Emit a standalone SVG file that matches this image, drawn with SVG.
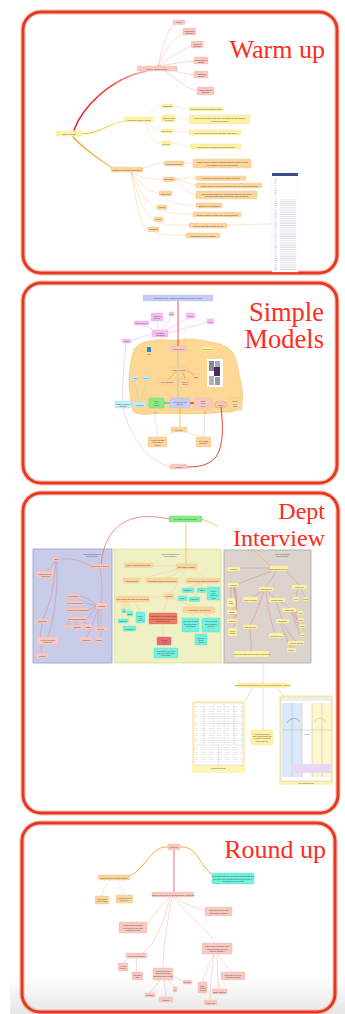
<svg xmlns="http://www.w3.org/2000/svg" width="345" height="1014" viewBox="0 0 345 1014">
<style>
.panel{fill:none;stroke:#e4391f;stroke-width:3}
.halo{fill:none;stroke:#f39a8a;stroke-width:5.5;opacity:.45}
.ttl{font-family:"Liberation Serif","Times New Roman",serif;fill:#ff2b1c;text-anchor:end}
.n rect{stroke-width:.3}
.pk rect{fill:#f9c9c1;stroke:#f2aaa2}
.yl rect{fill:#fdf1a6;stroke:#f4df86}
.or rect{fill:#fcd59c;stroke:#f2b872}
.lv rect{fill:#c7ccf6;stroke:#a8b0ec}
.mg rect{fill:#f6bdf4;stroke:#e49ae4}
.cy rect{fill:#c2eff9;stroke:#90d8ea}
.tl rect{fill:#72f0de;stroke:#40d8c0}
.gn rect{fill:#86ec86;stroke:#50c850}
.ro rect{fill:#f07a64;stroke:#d85a48}
.rp rect{fill:#e86a78;stroke:#d04858}
.t{font-family:"Liberation Sans",Arial,sans-serif;font-size:1.8px;fill:#3a3a3a;text-anchor:middle;dominant-baseline:central}
.k{fill:none;stroke-linecap:round}
.kp{stroke:#f4aaa4;stroke-width:.45}
.ky{stroke:#fbdc9a;stroke-width:.45}
.ko{stroke:#f8c88e;stroke-width:.45}
.km{stroke:#eea4ec;stroke-width:.45}
.kb{stroke:#cf7a78;stroke-width:.4}
.kc{stroke:#86d6e8;stroke-width:.4}
.sec{stroke-width:.7}
</style>
<defs>
<linearGradient id="gRed" gradientUnits="userSpaceOnUse" x1="74" y1="130" x2="147" y2="71">
<stop offset="0" stop-color="#e01414"/><stop offset=".6" stop-color="#ee4a40"/><stop offset="1" stop-color="#f6b0ac"/>
</linearGradient>
<linearGradient id="gOr" gradientUnits="userSpaceOnUse" x1="74" y1="137" x2="114" y2="169">
<stop offset="0" stop-color="#f09a10"/><stop offset="1" stop-color="#f8c878"/>
</linearGradient>
<linearGradient id="gYl" gradientUnits="userSpaceOnUse" x1="82" y1="134" x2="126" y2="121">
<stop offset="0" stop-color="#f4b020"/><stop offset="1" stop-color="#fbe08a"/>
</linearGradient>
<linearGradient id="floor" x1="0" y1="0" x2="0" y2="1">
<stop offset="0" stop-color="#ffffff"/><stop offset="1" stop-color="#e6e6e6"/>
</linearGradient>
<pattern id="rows" width="20" height="2.2" patternUnits="userSpaceOnUse">
<rect x="0" y="0.6" width="17" height=".5" fill="#b8bcc8"/>
</pattern>
<pattern id="cells" width="8" height="2.4" patternUnits="userSpaceOnUse">
<rect x="0.5" y="0.8" width="5" height=".4" fill="#c4c4c4"/>
</pattern>
</defs>

<!-- page -->
<rect width="345" height="1014" fill="#ffffff"/>
<rect x="10" y="977" width="335" height="37" fill="url(#floor)"/>

<!-- slide frames -->
<g id="frames">
<rect class="halo" x="23" y="12" width="314" height="261" rx="18"/>
<rect class="panel" x="23" y="12" width="314" height="261" rx="18"/>
<rect class="halo" x="23" y="283" width="314" height="200" rx="18"/>
<rect class="panel" x="23" y="283" width="314" height="200" rx="18"/>
<rect class="halo" x="23" y="493" width="315" height="320" rx="18"/>
<rect class="panel" x="23" y="493" width="315" height="320" rx="18"/>
<rect class="halo" x="22" y="823" width="313" height="189" rx="18"/>
<rect class="panel" x="22" y="823" width="313" height="189" rx="18"/>
</g>

<!-- backdrops: sections, cloud, documents -->
<g id="backdrops">
<rect x="33" y="549" width="79" height="114" fill="#c9cce8" stroke="#8890c8" class="sec"/>
<rect x="114" y="549" width="107" height="114" fill="#eff0c4" stroke="#d6de7e" class="sec"/>
<rect x="224" y="550" width="87" height="113" fill="#dcd2ce" stroke="#a89a98" class="sec"/>
<text class="t" x="92" y="554" style="font-size:1.5px">Work with stakeholders to</text>
<text class="t" x="92" y="556" style="font-size:1.5px">identify problems</text>
<text class="t" x="170" y="554" style="font-size:1.5px">How is the problem solved</text>
<text class="t" x="170" y="556" style="font-size:1.5px">in the department?</text>
<text class="t" x="282" y="554" style="font-size:1.5px">How is the department</text>
<text class="t" x="282" y="556" style="font-size:1.5px">improving things?</text>

<path d="M133 410 C128 395 128 372 132 356 C134 346 141 342 150 341 C160 338 170 341 180 340 C192 337 205 341 216 343 C228 345 235 352 237 364 C240 378 244 392 242 402 C241 411 232 413 222 412 C200 416 170 412 150 414 C140 415 134 414 133 410 Z" fill="#fdd894" stroke="#eea22c" stroke-width=".6" stroke-dasharray="1 .8"/>

<!-- warm-up notes page -->
<rect x="272" y="173" width="26" height="99" fill="#ffffff" stroke="#e4e4e4" stroke-width=".3"/>
<rect x="272" y="173" width="26" height="3" fill="#3c4d8f"/>
<rect x="274" y="178" width="4" height="20" fill="url(#rows)"/>
<rect x="274" y="199" width="22" height="72" fill="url(#rows)"/>

<!-- people picture -->
<rect x="207" y="359" width="16" height="28" fill="#ffffff"/>
<rect x="209" y="361" width="5" height="10" fill="#8a8a94"/>
<rect x="215" y="361" width="5" height="10" fill="#a8a8b0"/>
<rect x="214" y="367" width="6" height="9" fill="#4a2a5a"/>
<rect x="209" y="376" width="5" height="9" fill="#b0b0b8"/>
<rect x="215" y="377" width="5" height="8" fill="#9898a0"/>
<rect x="147" y="347" width="4" height="5" fill="#2a86c4"/>
<text class="t" x="149" y="354.5" style="font-size:1.3px">source</text>

<!-- tool sheet, left -->
<rect x="192" y="701" width="53" height="72" rx="2" fill="#fdf3b8"/>
<rect x="194" y="703" width="49" height="62" fill="#ffffff" stroke="#b8b8b8" stroke-width=".3"/>
<path d="M204 703 V745 M214 703 V745 M224 703 V745 M234 703 V745 M194 745 H243 M218.5 745 V765 M214 724 H224 M224 724 H234" stroke="#b8b8b8" stroke-width=".3" fill="none"/>
<rect x="195" y="705" width="48" height="39" fill="url(#cells)"/>
<rect x="195" y="747" width="47" height="16" fill="url(#cells)"/>
<text class="t" x="218.5" y="768" style="font-size:1.4px">Business model canvas</text>
<!-- tool sheet, right -->
<rect x="279" y="695" width="54" height="90" rx="2" fill="#fdf3b8"/>
<rect x="281" y="697" width="50" height="84" fill="#ffffff" stroke="#9a9a9a" stroke-width=".3"/>
<rect x="281" y="697" width="50" height="4" fill="#eeeeee"/>
<rect x="282" y="703" width="10" height="74" fill="#dce9f8"/>
<rect x="292" y="703" width="10" height="74" fill="#dce9f8"/>
<rect x="312" y="703" width="10" height="74" fill="#fdf6d0"/>
<rect x="322" y="703" width="9" height="74" fill="#fdf6d0"/>
<path d="M292 703 V777 M302 703 V777 M312 703 V777 M322 703 V777 M282 730 H331" stroke="#909090" stroke-width=".3" fill="none"/>
<rect x="291" y="764" width="40" height="9" fill="#ead6f6"/>
<path d="M287 723 C291 717 297 717 300 722" stroke="#5aa8f0" stroke-width=".8" fill="none"/>
<path d="M314 722 C317 717 323 717 326 722" stroke="#f2d040" stroke-width=".8" fill="none"/>
<text class="t" x="307" y="734" style="font-size:2px">DIS</text>
<text class="t" x="306" y="783" style="font-size:1.4px">Value proposition canvas</text>
</g>

<g id="connectors">
<!-- warm up -->
<path class="k" d="M74 130 C82 108 110 78 147 71" stroke="url(#gRed)" stroke-width="1.4"/>
<path class="k" d="M82 134 C100 134 110 122 126 121" stroke="url(#gYl)" stroke-width="1.1"/>
<path class="k" d="M73 137 C85 150 100 160 114 169" stroke="url(#gOr)" stroke-width="1.3"/>
<path class="k kp" d="M158 66 C162 50 166 30 175 24"/>
<path class="k kp" d="M158 66 C165 50 172 38 184 33"/>
<path class="k kp" d="M158 66 C170 58 180 50 192 46"/>
<path class="k kp" d="M158 66 C172 64 182 62 195 61"/>
<path class="k kp" d="M158 66 C172 70 182 74 195 75"/>
<path class="k kp" d="M158 66 C172 76 185 88 198 91"/>
<path class="k ky" d="M148 118 C152 108 156 106 162 106"/>
<path class="k ky" d="M148 119 C154 116 157 118 162 118"/>
<path class="k ky" d="M146 121 C152 128 155 131 161 131"/>
<path class="k ky" d="M145 121 C150 135 153 143 161 143"/>
<path class="k ky" d="M173 106 C180 106 182 109 189 109"/>
<path class="k ky" d="M176 118 C182 119 184 119 189 119"/>
<path class="k ky" d="M173 131 C180 131 182 132 189 132"/>
<path class="k ky" d="M171 143 C178 143 182 146 190 146"/>
<path class="k ko" d="M140 169 C150 166 155 163 164 163"/>
<path class="k ko" d="M131 172 C140 178 150 179 163 179"/>
<path class="k ko" d="M131 172 C140 183 150 193 159 193"/>
<path class="k ko" d="M131 172 C140 190 148 207 157 207"/>
<path class="k ko" d="M131 172 C138 195 145 219 154 219"/>
<path class="k ko" d="M131 172 C136 200 140 229 148 229"/>
<path class="k ko" d="M184 163 H193"/>
<path class="k ko" d="M175 179 C185 178 188 178 196 178"/>
<path class="k ko" d="M175 179 C185 180 188 185 196 185"/>
<path class="k ko" d="M175 180 C183 185 188 195 196 195"/>
<path class="k ko" d="M165 196 C168 203 180 205 196 205"/>
<path class="k ko" d="M162 209 C166 214 180 214 193 214"/>
<path class="k ko" d="M159 221 C163 226 175 225 189 225"/>
<path class="k ko" d="M227 225 C240 225 255 224 272 224"/>
<path class="k ko" d="M153 231 C157 236 170 235 186 235"/>
<!-- simple models -->
<path class="k" d="M178 301 V346" stroke="#e82a2a" stroke-width=".8"/>
<path class="k km" d="M155 331 C150 328 146 326 142 325"/>
<path class="k km" d="M158 330 L157 321"/>
<path class="k km" d="M162 330 C166 324 170 320 171 316"/>
<path class="k km" d="M165 331 C175 325 183 320 190 318"/>
<path class="k km" d="M167 333 C185 328 200 325 207 322"/>
<path class="k km" d="M152 334 C145 336 138 338 131 341"/>
<path class="k" d="M187 348.5 H202" stroke="#e4ec78" stroke-width=".6"/>
<path class="k" d="M178 351 V398" stroke="#a8b0cc" stroke-width=".6"/>
<path class="k" d="M176 372 C172 376 170 378 168 379" stroke="#f0a030" stroke-width=".8"/>
<path class="k" d="M182 372 C184 375 185 377 185 379" stroke="#f0a030" stroke-width=".8"/>
<path class="k" d="M186 370 C190 372 192 374 194 375" stroke="#f0a030" stroke-width=".8"/>
<path class="k" d="M164 403 H170" stroke="#30d4e4" stroke-width="1.5"/>
<path class="k kc" d="M146 404.5 H149"/>
<path class="k kc" d="M131 404.5 H133"/>
<path class="k kc" d="M135 380 C136 390 138 398 139 402"/>
<path class="k kc" d="M146 380 C145 390 142 398 140 402"/>
<path class="k" d="M190 403 H194" stroke="#e03030" stroke-width="1.5"/>
<path class="k kp" d="M212 404 H215"/>
<path class="k kp" d="M226 404 H228"/>
<path class="k" d="M180 408 V427" stroke="#f0a030" stroke-width=".7"/>
<path class="k ko" d="M174 432 C168 434 162 435 158 437"/>
<path class="k ko" d="M184 432 C190 434 198 435 203 437"/>
<path class="k" d="M155 408 C155 420 157 430 157 437" stroke="#9ee69e" stroke-width=".45"/>
<path class="k kp" d="M205 409 C205 420 204 430 204 437"/>
<path class="k" d="M126 343 C124 370 120 395 124 412 C132 440 150 462 170 467" stroke="#f4bac8" stroke-width=".55"/>
<path class="k" d="M221 407 C223 425 224 445 216 457 C208 466 197 467 187 467" stroke="#e03020" stroke-width=".9"/>
<!-- dept interview -->
<path class="k" d="M169 519 C130 510 105 525 101 564" stroke="#e04848" stroke-width=".6"/>
<path class="k" d="M202 519 C225 528 250 545 270 566" stroke="#f2b030" stroke-width=".7"/>
<path class="k" d="M186 522 V564" stroke="#f2b040" stroke-width=".6"/>
<path class="k kb" d="M91 566 C80 560 70 558 60 559"/>
<path class="k kb" d="M55 561 C52 566 50 569 47 571"/>
<path class="k kb" d="M56 561 C54 585 50 605 43 619"/>
<path class="k kb" d="M57 561 C58 600 52 625 48 637"/>
<path class="k kb" d="M42 623 C40 635 40 645 42 653"/>
<path class="k kb" d="M100 568 C102 580 103 592 101 603"/>
<path class="k kb" d="M96 605 C90 600 85 597 80 596"/>
<path class="k kb" d="M96 606 C90 604 88 603 83 603"/>
<path class="k kb" d="M96 606 C92 608 90 610 88 610"/>
<path class="k kb" d="M96 607 C92 612 90 616 87 619"/>
<path class="k kb" d="M99 609 C98 615 97 620 99 627"/>
<path class="k kb" d="M98 609 C94 620 90 630 87 637"/>
<path class="k kb" d="M101 609 V637"/>
<path class="k kb" d="M70 621 L66 625"/>
<path class="k kb" d="M75 621 L77 625"/>
<path class="k kb" d="M82 621 L87 624"/>
<path class="k ko" d="M176 566 H153"/>
<path class="k ko" d="M180 569 C165 572 150 576 140 579"/>
<path class="k ko" d="M183 569 C178 573 172 576 166 578"/>
<path class="k ko" d="M192 569 C198 573 202 576 204 578"/>
<path class="k ko" d="M185 569 C180 580 174 590 170 594"/>
<path class="k ko" d="M164 596 C158 597 153 598 149 598"/>
<path class="k ko" d="M172 598 C180 602 190 605 195 607"/>
<path class="k ko" d="M168 598 C166 604 164 609 163 613"/>
<path class="k ko" d="M163 624 V637"/>
<path class="k ko" d="M164 645 V648"/>
<path class="k ko" d="M200 583 C196 585 192 586 188 588"/>
<path class="k ko" d="M202 583 L201 588"/>
<path class="k ko" d="M206 583 L212 587"/>
<path class="k ko" d="M198 583 C192 590 187 594 184 596"/>
<path class="k ko" d="M200 583 L195 597"/>
<path class="k ko" d="M125 602 L124 609"/>
<path class="k ko" d="M128 602 L130 611"/>
<path class="k ko" d="M135 602 L140 612"/>
<path class="k ko" d="M123 602 C120 608 121 614 123 619"/>
<path class="k ko" d="M126 602 C128 612 129 620 129 626"/>
<path class="k ko" d="M195 613 L190 618"/>
<path class="k ko" d="M203 613 L210 618"/>
<path class="k ko" d="M210 632 L203 634"/>
<path class="k kb" d="M270 568 H240"/>
<path class="k kb" d="M272 571 C260 576 245 580 239 584"/>
<path class="k kb" d="M276 571 C272 578 269 583 266 587"/>
<path class="k kb" d="M286 571 C292 577 296 581 299 585"/>
<path class="k kb" d="M233 587 C238 600 238 620 233 628"/>
<path class="k kb" d="M231 587 L231 598"/>
<path class="k kb" d="M234 587 C236 595 235 605 233 610"/>
<path class="k kb" d="M235 587 C238 600 237 612 233 619"/>
<path class="k kb" d="M262 591 C258 594 255 596 252 597"/>
<path class="k kb" d="M267 591 L275 598"/>
<path class="k kb" d="M264 591 C260 605 255 615 250 625"/>
<path class="k kb" d="M266 591 C268 610 272 625 275 633"/>
<path class="k kb" d="M250 629 C250 640 252 646 251 651"/>
<path class="k kb" d="M298 589 L296 597"/>
<path class="k kb" d="M301 589 L305 597"/>
<path class="k kb" d="M280 602 C284 604 288 606 289 608"/>
<path class="k kb" d="M294 612 L298 613"/>
<path class="k kb" d="M294 612 C296 615 297 618 298 620"/>
<path class="k kb" d="M292 612 C296 618 298 622 299 626"/>
<path class="k kb" d="M291 612 C296 622 298 630 300 635"/>
<path class="k kb" d="M276 602 L282 619"/>
<path class="k kb" d="M283 623 C288 632 292 637 296 641"/>
<path class="k kb" d="M280 623 C284 632 288 642 291 648"/>
<path class="k" d="M263 663 V683" stroke="#f0a0a0" stroke-width=".45"/>
<path class="k" d="M253 687 C250 692 248 697 245 701" stroke="#f0a0a0" stroke-width=".45"/>
<path class="k" d="M263 687 V730" stroke="#f0a0a0" stroke-width=".45"/>
<path class="k" d="M276 687 C279 690 281 693 283 695" stroke="#f0a0a0" stroke-width=".45"/>
<!-- round up -->
<path class="k" d="M168 847 C150 845 145 872 128 876" stroke="#f0b030" stroke-width="1"/>
<path class="k" d="M180 847 C198 845 200 868 212 874" stroke="#f0b030" stroke-width="1"/>
<path class="k ko" d="M110 880 C106 885 103 890 102 896"/>
<path class="k ko" d="M118 880 C120 886 122 890 124 895"/>
<path class="k" d="M174 850 V892" stroke="#e84848" stroke-width=".8"/>
<path class="k kp" d="M176 897 C185 905 195 908 205 910"/>
<path class="k kp" d="M170 897 C160 905 155 915 147 925"/>
<path class="k kp" d="M170 897 C165 920 155 945 143 953"/>
<path class="k kp" d="M130 958 C126 960 124 961 123 963"/>
<path class="k kp" d="M136 958 L137 972"/>
<path class="k kp" d="M172 897 C168 920 163 945 163 968"/>
<path class="k kp" d="M173 976 C178 978 181 980 183 982"/>
<path class="k kp" d="M168 980 L175 987"/>
<path class="k kp" d="M160 980 L150 993"/>
<path class="k kp" d="M164 980 L166 997"/>
<path class="k kp" d="M174 897 C185 915 205 925 215 943"/>
<path class="k kp" d="M215 954 C208 965 204 975 203 982"/>
<path class="k kp" d="M217 954 C217 970 218 980 219 989"/>
<path class="k kp" d="M214 954 C212 970 210 990 210 1000"/>
<path class="k kp" d="M218 954 C222 962 228 968 232 972"/>
</g>

<!-- warm up nodes -->
<g id="w-root" class="n yl"><rect x="56" y="131" width="26" height="5" rx="1"/><text class="t" x="69" y="133.5">Warm up (5 mins)</text></g>
<g id="w-spot" class="n pk"><rect x="137" y="66" width="40" height="5" rx="1"/><text class="t" x="157" y="68.5">Spot my disease (5 mins)</text></g>
<g id="w-s1" class="n pk"><rect x="173" y="20" width="12" height="4.5" rx="1"/><text class="t" x="179" y="22.3">Cancer</text></g>
<g id="w-s2" class="n pk"><rect x="183" y="28" width="13" height="7" rx="1"/><text class="t" x="189.5" y="30.5">Neurological</text><text class="t" x="189.5" y="32.7">disorders</text></g>
<g id="w-s3" class="n pk"><rect x="191" y="41" width="12" height="7" rx="1"/><text class="t" x="197" y="43.5">Infectious</text><text class="t" x="197" y="45.7">diseases</text></g>
<g id="w-s4" class="n pk"><rect x="194" y="57" width="14" height="7" rx="1"/><text class="t" x="201" y="59.5">Cardiovascular</text><text class="t" x="201" y="61.7">disease</text></g>
<g id="w-s5" class="n pk"><rect x="194" y="71" width="14" height="7" rx="1"/><text class="t" x="201" y="73.5">Autoimmune</text><text class="t" x="201" y="75.7">disease</text></g>
<g id="w-s6" class="n pk"><rect x="197" y="87" width="17" height="8" rx="1"/><text class="t" x="205.5" y="89.8">Musculoskeletal</text><text class="t" x="205.5" y="92.2">disorders</text></g>
<g id="w-arm" class="n yl"><rect x="124" y="117" width="29" height="5" rx="1"/><text class="t" x="138.5" y="119.5">Arm making &amp; biology (5 mins)</text></g>
<g id="w-a1" class="n yl"><rect x="162" y="104" width="11" height="4" rx="1"/><text class="t" x="167.5" y="106">Diagnostics</text></g>
<g id="w-a2" class="n yl"><rect x="162" y="115" width="14" height="7" rx="1"/><text class="t" x="169" y="117.5">Breaking down</text><text class="t" x="169" y="119.7">the cause</text></g>
<g id="w-a3" class="n yl"><rect x="161" y="129" width="12" height="4" rx="1"/><text class="t" x="167" y="131">Drug delivery</text></g>
<g id="w-a4" class="n yl"><rect x="161" y="141" width="10" height="5" rx="1"/><text class="t" x="166" y="143.5">Devices</text></g>
<g id="w-a1b" class="n yl"><rect x="189" y="107" width="34" height="4" rx="1"/><text class="t" x="206" y="109">How could we detect the disease earlier?</text></g>
<g id="w-a2b" class="n yl"><rect x="189" y="115" width="61" height="9" rx="1"/><text class="t" x="219.5" y="118">How do we find targets in the body and choose the right medicine</text><text class="t" x="219.5" y="120.6">to act on them safely?</text></g>
<g id="w-a3b" class="n yl"><rect x="189" y="130" width="52" height="5" rx="1"/><text class="t" x="215" y="132.5">How do we get the drug to the right place in the body?</text></g>
<g id="w-a4b" class="n yl"><rect x="190" y="144" width="51" height="5" rx="1"/><text class="t" x="215.5" y="146.5">Which tools help patients and doctors at home?</text></g>
<g id="w-db" class="n or"><rect x="111" y="167" width="32" height="5" rx="1"/><text class="t" x="127" y="169.5">Database of real world data (5 mins)</text></g>
<g id="w-d1" class="n or"><rect x="164" y="161" width="20" height="5" rx="1"/><text class="t" x="174" y="163.5">Sources of the data</text></g>
<g id="w-d2" class="n or"><rect x="163" y="177" width="12" height="4.5" rx="1"/><text class="t" x="169" y="179.3">Data quality</text></g>
<g id="w-d3" class="n or"><rect x="159" y="191" width="13" height="5" rx="1"/><text class="t" x="165.5" y="193.5">Data types</text></g>
<g id="w-d4" class="n or"><rect x="157" y="205" width="10" height="4.5" rx="1"/><text class="t" x="162" y="207.3">Linkage</text></g>
<g id="w-d5" class="n or"><rect x="154" y="217" width="9" height="4.5" rx="1"/><text class="t" x="158.5" y="219.3">Privacy</text></g>
<g id="w-d6" class="n or"><rect x="148" y="227" width="11" height="4.5" rx="1"/><text class="t" x="153.5" y="229.3">Outcomes</text></g>
<g id="w-d1b" class="n or"><rect x="193" y="159" width="58" height="9" rx="1"/><text class="t" x="222" y="162">Hospital records, registries, prescriptions and wearables collected</text><text class="t" x="222" y="164.6">from patients in everyday care settings</text></g>
<g id="w-d2b" class="n or"><rect x="196" y="176" width="50" height="4.5" rx="1"/><text class="t" x="221" y="178.3">How complete and accurate is what is recorded?</text></g>
<g id="w-d2c" class="n or"><rect x="196" y="183" width="66" height="5" rx="1"/><text class="t" x="229" y="185.5">Are there gaps, errors or bias in how the data were collected and coded?</text></g>
<g id="w-d2d" class="n or"><rect x="196" y="191" width="61" height="8" rx="1"/><text class="t" x="226.5" y="193.8">Who checks the data before it is used for research, and how are</text><text class="t" x="226.5" y="196.2">problems reported back to the people who collected it?</text></g>
<g id="w-d3b" class="n or"><rect x="196" y="203" width="26" height="5" rx="1"/><text class="t" x="209" y="205.5">Numbers, text and images</text></g>
<g id="w-d4b" class="n or"><rect x="193" y="212" width="48" height="5" rx="1"/><text class="t" x="217" y="214.5">Joining records for the same patient across sources</text></g>
<g id="w-d5b" class="n or"><rect x="189" y="223" width="38" height="5" rx="1"/><text class="t" x="208" y="225.5">Consent, anonymity and safe access</text></g>
<g id="w-d6b" class="n or"><rect x="186" y="233" width="34" height="5" rx="1"/><text class="t" x="203" y="235.5">What happened to the patients?</text></g>

<!-- simple models nodes -->
<g id="s-top" class="n lv"><rect x="143" y="295" width="70" height="6" rx="1"/><text class="t" x="178" y="298">Introduction to the "Component model of the Drug" (10 mins)</text></g>
<g id="s-sim" class="n mg"><rect x="152" y="330" width="16" height="7" rx="1"/><text class="t" x="160" y="332.5">Simulation</text><text class="t" x="160" y="334.7">Abstraction</text></g>
<g id="s-m1" class="n mg"><rect x="134" y="321" width="15" height="4" rx="1"/><text class="t" x="141.5" y="323">Model of a cell</text></g>
<g id="s-m2" class="n mg"><rect x="151" y="313" width="12" height="8" rx="1"/><text class="t" x="157" y="315.8">Model of</text><text class="t" x="157" y="318.2">an organ</text></g>
<g id="s-m3" class="n mg"><rect x="169" y="312" width="5" height="4" rx="1"/><text class="t" x="171.5" y="314">Map</text></g>
<g id="s-m4" class="n mg"><rect x="186" y="313" width="9" height="5" rx="1"/><text class="t" x="190.5" y="315.5">Globe</text></g>
<g id="s-m5" class="n mg"><rect x="207" y="319" width="7" height="5" rx="1"/><text class="t" x="210.5" y="321.5">Lego</text></g>
<g id="s-m6" class="n mg"><rect x="122" y="339" width="9" height="4" rx="1"/><text class="t" x="126.5" y="341">Limits</text></g>
<g id="s-herb" class="n pk"><rect x="170" y="346" width="17" height="5" rx="1"/><text class="t" x="178.5" y="348.5">Herbal remedy</text></g>
<g id="s-herb2" class="n yl"><rect x="202" y="347" width="10" height="3.5" rx="1"/><text class="t" x="207" y="348.8">Willow bark</text></g>
<g id="s-hub" class="n or"><rect x="171" y="367" width="16" height="5" rx="1"/><text class="t" x="179" y="369.5">Model of a drug</text></g>
<g id="s-h1" class="n or"><rect x="157" y="379" width="19" height="5" rx="1"/><text class="t" x="166.5" y="381.5">Active ingredient</text></g>
<g id="s-h2" class="n or"><rect x="180" y="379" width="11" height="8" rx="1"/><text class="t" x="185.5" y="381.8">Carrier /</text><text class="t" x="185.5" y="384.2">delivery</text></g>
<g id="s-h3" class="n or"><rect x="193" y="374" width="6" height="5" rx="1"/><text class="t" x="196" y="376.5">Dose</text></g>
<g id="s-ctr" class="n lv"><rect x="170" y="398" width="20" height="10" rx="1"/><text class="t" x="180" y="401.8">Therapeutic (T2)</text><text class="t" x="180" y="404.4">Explorer</text></g>
<g id="s-grn" class="n gn"><rect x="149" y="398" width="15" height="10" rx="1"/><text class="t" x="156.5" y="400.6">Where</text><text class="t" x="156.5" y="403">is it</text><text class="t" x="156.5" y="405.4">made?</text></g>
<g id="s-alg" class="n cy"><rect x="133" y="402" width="13" height="5" rx="1"/><text class="t" x="139.5" y="404.5">Algorithms</text></g>
<g id="s-c0" class="n cy"><rect x="115" y="401" width="16" height="7" rx="1"/><text class="t" x="123" y="403.5">Machine learning</text><text class="t" x="123" y="405.7">Statistics</text></g>
<g id="s-c1" class="n cy"><rect x="132" y="376" width="6" height="4" rx="1"/><text class="t" x="135" y="378">Input</text></g>
<g id="s-c2" class="n cy"><rect x="143" y="376" width="6" height="4" rx="1"/><text class="t" x="146" y="378">Rules</text></g>
<g id="s-pk" class="n pk"><rect x="194" y="398" width="18" height="11" rx="1"/><text class="t" x="203" y="400.8">Effect</text><text class="t" x="203" y="403.2">in the</text><text class="t" x="203" y="405.6">body</text></g>
<g id="s-res" class="n pk"><rect x="215" y="402" width="11" height="5" rx="1" style="stroke:#e04848"/><text class="t" x="220.5" y="404.5">Result</text></g>
<g id="s-out" class="n or"><rect x="228" y="398" width="14" height="12" rx="1"/><text class="t" x="235" y="401.4">Patient</text><text class="t" x="235" y="403.8">feels</text><text class="t" x="235" y="406.2">better</text></g>
<text class="t" x="155" y="412" style="font-size:1.3px;fill:#777">link</text>
<text class="t" x="205" y="412" style="font-size:1.3px;fill:#777">link</text>
<g id="s-sel" class="n or"><rect x="171" y="427" width="16" height="5" rx="1"/><text class="t" x="179" y="429.5">Selection</text></g>
<g id="s-l" class="n or"><rect x="148" y="437" width="19" height="10" rx="1"/><text class="t" x="157.5" y="440">Which drug suits</text><text class="t" x="157.5" y="442.4">which patient</text><text class="t" x="157.5" y="444.8">group?</text></g>
<g id="s-r" class="n or"><rect x="196" y="437" width="15" height="10" rx="1"/><text class="t" x="203.5" y="440.8">Side effects</text><text class="t" x="203.5" y="443.2">and safety</text></g>
<g id="s-bot" class="n pk"><rect x="170" y="464" width="17" height="5" rx="1"/><text class="t" x="178.5" y="466.5">Validation</text></g>

<!-- dept interview nodes -->
<g id="d-top" class="n gn"><rect x="169" y="516" width="33" height="6" rx="1"/><text class="t" x="185.5" y="519">The bigger picture (20 mins)</text></g>
<g id="d-tech" class="n pk"><rect x="91" y="564" width="18" height="4.5" rx="1"/><text class="t" x="100" y="566.3">Technology &amp; Science</text></g>
<g id="d-b1" class="n pk"><rect x="53" y="557" width="7" height="4" rx="1"/><text class="t" x="56.5" y="559">Tools</text></g>
<g id="d-b2" class="n pk"><rect x="37" y="571" width="16" height="7" rx="1"/><text class="t" x="45" y="573.5">Imaging and lab</text><text class="t" x="45" y="575.7">equipment</text></g>
<g id="d-b3" class="n pk"><rect x="36" y="619" width="13" height="4" rx="1"/><text class="t" x="42.5" y="621">Computing</text></g>
<g id="d-b4" class="n pk"><rect x="37" y="637" width="21" height="8" rx="1"/><text class="t" x="47.5" y="639.8">How are new tools</text><text class="t" x="47.5" y="642.2">brought in?</text></g>
<g id="d-b5" class="n pk"><rect x="36" y="653" width="12" height="5" rx="1"/><text class="t" x="42" y="655.5">Training</text></g>
<g id="d-bh" class="n pk"><rect x="96" y="603" width="11" height="6" rx="1"/><text class="t" x="101.5" y="606">Methods</text></g>
<g id="d-b6" class="n pk"><rect x="67" y="594" width="13" height="4" rx="1"/><text class="t" x="73.5" y="596">Experiments</text></g>
<g id="d-b7" class="n pk"><rect x="66" y="601" width="17" height="4.5" rx="1"/><text class="t" x="74.5" y="603.3">Trials with patients</text></g>
<g id="d-b8" class="n pk"><rect x="68" y="608" width="20" height="4.5" rx="1"/><text class="t" x="78" y="610.3">Modelling and simulation</text></g>
<g id="d-b9" class="n pk"><rect x="67" y="617" width="20" height="4.5" rx="1"/><text class="t" x="77" y="619.3">Data analysis methods</text></g>
<g id="d-b10" class="n pk"><rect x="63" y="625" width="5" height="4" rx="1"/><text class="t" x="65.5" y="627">AI</text></g>
<g id="d-b11" class="n pk"><rect x="71" y="625" width="12" height="4" rx="1"/><text class="t" x="77" y="627">Statistics</text></g>
<g id="d-b12" class="n pk"><rect x="84" y="624" width="8" height="5" rx="1"/><text class="t" x="88" y="626.5">Maths</text></g>
<g id="d-b13" class="n pk"><rect x="94" y="627" width="13" height="4" rx="1"/><text class="t" x="100.5" y="629">Surveys</text></g>
<g id="d-b14" class="n pk"><rect x="80" y="637" width="13" height="5" rx="1"/><text class="t" x="86.5" y="639.5">Publishing</text></g>
<g id="d-b15" class="n pk"><rect x="96" y="637" width="6" height="5" rx="1"/><text class="t" x="99" y="639.5">Ethics</text></g>

<g id="d-imp" class="n or"><rect x="176" y="564" width="21" height="5" rx="1"/><text class="t" x="186.5" y="566.5">IMP system &amp; storage</text></g>
<g id="d-o1" class="n or"><rect x="124" y="563" width="29" height="4.5" rx="1"/><text class="t" x="138.5" y="565.3">Supply chain and stock control</text></g>
<g id="d-o2" class="n or"><rect x="123" y="578" width="17" height="5" rx="1"/><text class="t" x="131.5" y="580.5">Labelling rules</text></g>
<g id="d-o3" class="n or"><rect x="146" y="578" width="32" height="5" rx="1"/><text class="t" x="162" y="580.5">Temperature control and monitoring</text></g>
<g id="d-o4" class="n or"><rect x="186" y="578" width="34" height="5" rx="1"/><text class="t" x="203" y="580.5">How is medicine handed to the patient?</text></g>
<g id="d-sys" class="n or"><rect x="164" y="594" width="10" height="4.5" rx="1"/><text class="t" x="169" y="596.3">System</text></g>
<g id="d-o5" class="n or"><rect x="116" y="596" width="33" height="6" rx="1"/><text class="t" x="132.5" y="599">Who records each dose and each batch?</text></g>
<g id="d-o6" class="n or"><rect x="183" y="607" width="32" height="6" rx="1"/><text class="t" x="199" y="610">Accountability and audit trail</text></g>
<g id="d-t1" class="n tl"><rect x="182" y="588" width="12" height="4.5" rx="1"/><text class="t" x="188" y="590.3">Pharmacy</text></g>
<g id="d-t2" class="n tl"><rect x="197" y="588" width="9" height="4.5" rx="1"/><text class="t" x="201.5" y="590.3">Ward</text></g>
<g id="d-t3" class="n tl"><rect x="207" y="587" width="13" height="13" rx="1"/><text class="t" x="213.5" y="590.5">Courier</text><text class="t" x="213.5" y="592.9">to the</text><text class="t" x="213.5" y="595.3">patient's</text><text class="t" x="213.5" y="597.7">home</text></g>
<g id="d-t4" class="n tl"><rect x="178" y="596" width="9" height="4.5" rx="1"/><text class="t" x="182.5" y="598.3">Clinic</text></g>
<g id="d-t5" class="n tl"><rect x="189" y="597" width="11" height="4.5" rx="1"/><text class="t" x="194.5" y="599.3">Research</text></g>
<g id="d-t6" class="n tl"><rect x="122" y="609" width="4" height="4" rx="1"/><text class="t" x="124" y="611">ID</text></g>
<g id="d-t7" class="n tl"><rect x="127" y="611" width="6" height="5" rx="1"/><text class="t" x="130" y="613.5">Batch</text></g>
<g id="d-t8" class="n tl"><rect x="136" y="612" width="9" height="11" rx="1"/><text class="t" x="140.5" y="615.6">Expiry</text><text class="t" x="140.5" y="618">and</text><text class="t" x="140.5" y="620.4">returns</text></g>
<g id="d-t9" class="n tl"><rect x="118" y="619" width="10" height="4" rx="1"/><text class="t" x="123" y="621">Dose log</text></g>
<g id="d-t10" class="n tl"><rect x="123" y="626" width="13" height="5" rx="1"/><text class="t" x="129.5" y="628.5">Electronic</text></g>
<g id="d-ro" class="n ro"><rect x="149" y="613" width="28" height="11" rx="1"/><text class="t" x="163" y="616.2">What happens if something goes</text><text class="t" x="163" y="618.6">wrong with a dose or a delivery,</text><text class="t" x="163" y="621">and who is told?</text></g>
<g id="d-t11" class="n tl"><rect x="182" y="618" width="17" height="14" rx="1"/><text class="t" x="190.5" y="621.4">Who signs off each</text><text class="t" x="190.5" y="623.8">step and how is</text><text class="t" x="190.5" y="626.2">it recorded?</text></g>
<g id="d-t12" class="n tl"><rect x="202" y="618" width="18" height="14" rx="1"/><text class="t" x="211" y="621.4">How long must</text><text class="t" x="211" y="623.8">the records be</text><text class="t" x="211" y="626.2">kept for?</text></g>
<g id="d-t13" class="n tl"><rect x="195" y="634" width="12" height="11" rx="1"/><text class="t" x="201" y="637.6">Who can</text><text class="t" x="201" y="640">inspect</text><text class="t" x="201" y="642.4">them?</text></g>
<g id="d-rp" class="n rp"><rect x="157" y="637" width="14" height="8" rx="1"/><text class="t" x="164" y="639.8">Incident</text><text class="t" x="164" y="642.2">report</text></g>
<g id="d-t14" class="n tl"><rect x="154" y="648" width="24" height="10" rx="1"/><text class="t" x="166" y="650.6">Reviewed by the safety</text><text class="t" x="166" y="653">team and shared with</text><text class="t" x="166" y="655.4">the sponsor</text></g>

<g id="d-bus" class="n yl"><rect x="270" y="566" width="18" height="5" rx="1"/><text class="t" x="279" y="568.5">Business development</text></g>
<g id="d-y1" class="n yl"><rect x="227" y="567" width="13" height="4" rx="1"/><text class="t" x="233.5" y="569">Funding</text></g>
<g id="d-y2" class="n yl"><rect x="228" y="583" width="11" height="4" rx="1"/><text class="t" x="233.5" y="585">Partners</text></g>
<g id="d-y3" class="n yl"><rect x="259" y="587" width="14" height="4" rx="1"/><text class="t" x="266" y="589">New services</text></g>
<g id="d-y4" class="n yl"><rect x="292" y="585" width="15" height="4" rx="1"/><text class="t" x="299.5" y="587">Who pays?</text></g>
<g id="d-y5" class="n yl"><rect x="243" y="597" width="15" height="5" rx="1"/><text class="t" x="250.5" y="599.5">Market research</text></g>
<g id="d-y6" class="n yl"><rect x="269" y="598" width="16" height="4" rx="1"/><text class="t" x="277" y="600">Product design</text></g>
<g id="d-y7" class="n yl"><rect x="293" y="597" width="6" height="4" rx="1"/><text class="t" x="296" y="599">NHS</text></g>
<g id="d-y8" class="n yl"><rect x="303" y="597" width="5" height="4" rx="1"/><text class="t" x="305.5" y="599">Grant</text></g>
<g id="d-y9" class="n yl"><rect x="227" y="598" width="8" height="9" rx="1"/><text class="t" x="231" y="601">Uni-</text><text class="t" x="231" y="603.4">versity</text></g>
<g id="d-y10" class="n yl"><rect x="227" y="610" width="10" height="4" rx="1"/><text class="t" x="232" y="612">Industry</text></g>
<g id="d-y11" class="n yl"><rect x="227" y="619" width="10" height="4" rx="1"/><text class="t" x="232" y="621">Charities</text></g>
<g id="d-y12" class="n yl"><rect x="228" y="628" width="9" height="8" rx="1"/><text class="t" x="232.5" y="630.8">Patient</text><text class="t" x="232.5" y="633.2">groups</text></g>
<g id="d-y13" class="n yl"><rect x="282" y="608" width="14" height="4" rx="1"/><text class="t" x="289" y="610">Prototyping</text></g>
<g id="d-y14" class="n yl"><rect x="298" y="611" width="5" height="4" rx="1"/><text class="t" x="300.5" y="613">Test</text></g>
<g id="d-y15" class="n yl"><rect x="298" y="618" width="6" height="4" rx="1"/><text class="t" x="301" y="620">Build</text></g>
<g id="d-y16" class="n yl"><rect x="299" y="624" width="6" height="4" rx="1"/><text class="t" x="302" y="626">Learn</text></g>
<g id="d-y17" class="n yl"><rect x="300" y="633" width="5" height="4" rx="1"/><text class="t" x="302.5" y="635">Scale</text></g>
<g id="d-y18" class="n yl"><rect x="276" y="619" width="13" height="4" rx="1"/><text class="t" x="282.5" y="621">Regulation</text></g>
<g id="d-y19" class="n yl"><rect x="243" y="625" width="14" height="4" rx="1"/><text class="t" x="250" y="627">Business case</text></g>
<g id="d-y20" class="n yl"><rect x="269" y="633" width="14" height="5" rx="1"/><text class="t" x="276" y="635.5">Marketing plan</text></g>
<g id="d-y21" class="n yl"><rect x="288" y="641" width="16" height="4" rx="1"/><text class="t" x="296" y="643">Approval process</text></g>
<g id="d-y22" class="n yl"><rect x="287" y="648" width="9" height="4" rx="1"/><text class="t" x="291.5" y="650">Timeline</text></g>
<g id="d-y23" class="n yl"><rect x="234" y="651" width="35" height="6" rx="1"/><text class="t" x="251.5" y="654">How do we show value for money to the NHS?</text></g>
<g id="d-tools" class="n yl"><rect x="237" y="683" width="52" height="4.5" rx="1"/><text class="t" x="263" y="685.3">Business development tools we use in the department (see examples)</text></g>
<g id="d-mid" class="n yl"><rect x="251" y="730" width="22" height="15" rx="1"/><text class="t" x="262" y="733.6">Frameworks used to</text><text class="t" x="262" y="736">plan a new product and</text><text class="t" x="262" y="738.4">explain it to investors</text><text class="t" x="262" y="740.8">and to patients</text></g>

<!-- round up nodes -->
<g id="r-root" class="n pk"><rect x="168" y="844" width="12" height="6" rx="1"/><text class="t" x="174" y="847">Round up</text></g>
<g id="r-l" class="n or"><rect x="98" y="875" width="32" height="5" rx="1"/><text class="t" x="114" y="877.5">Does this help the bigger picture?</text></g>
<g id="r-l1" class="n or"><rect x="95" y="896" width="14" height="8" rx="1"/><text class="t" x="102" y="898.8">Which stage</text><text class="t" x="102" y="901.2">do you enjoy?</text></g>
<g id="r-l2" class="n or"><rect x="116" y="895" width="17" height="8" rx="1"/><text class="t" x="124.5" y="897.8">What would you</text><text class="t" x="124.5" y="900.2">like to try?</text></g>
<g id="r-tl" class="n tl"><rect x="212" y="873" width="42" height="11" rx="1.5"/><text class="t" x="233" y="876.2">Think about how everyone in the room has added to</text><text class="t" x="233" y="878.6">the same drug, from the lab bench to the patient,</text><text class="t" x="233" y="881">and what each role needs</text></g>
<g id="r-m" class="n pk"><rect x="152" y="892" width="42" height="5" rx="1"/><text class="t" x="173" y="894.5">Would you like a career in this field? Why or why not?</text></g>
<g id="r-m1" class="n pk"><rect x="205" y="907" width="27" height="9" rx="1"/><text class="t" x="218.5" y="910">What surprised you most</text><text class="t" x="218.5" y="912.6">about today's session?</text></g>
<g id="r-m2" class="n pk"><rect x="119" y="922" width="28" height="11" rx="1"/><text class="t" x="133" y="925.2">Which subjects at school</text><text class="t" x="133" y="927.6">would help you the most</text><text class="t" x="133" y="930">in this kind of job?</text></g>
<g id="r-m3" class="n pk"><rect x="126" y="953" width="21" height="5" rx="1"/><text class="t" x="136.5" y="955.5">Routes into the field</text></g>
<g id="r-m3a" class="n pk"><rect x="118" y="963" width="10" height="8" rx="1"/><text class="t" x="123" y="965.8">A levels /</text><text class="t" x="123" y="968.2">degree</text></g>
<g id="r-m3b" class="n pk"><rect x="132" y="972" width="11" height="8" rx="1"/><text class="t" x="137.5" y="974.8">Apprentice-</text><text class="t" x="137.5" y="977.2">ship</text></g>
<g id="r-m4" class="n pk"><rect x="153" y="968" width="20" height="12" rx="1"/><text class="t" x="163" y="971">Which role would</text><text class="t" x="163" y="973.4">suit you best, and</text><text class="t" x="163" y="975.8">what skills does it need?</text></g>
<g id="r-m4a" class="n pk"><rect x="183" y="980" width="9" height="4" rx="1"/><text class="t" x="187.5" y="982">Scientist</text></g>
<g id="r-m4b" class="n pk"><rect x="173" y="987" width="4" height="5" rx="1"/><text class="t" x="175" y="989.5">IT</text></g>
<g id="r-m4c" class="n pk"><rect x="145" y="993" width="10" height="4" rx="1"/><text class="t" x="150" y="995">Clinician</text></g>
<g id="r-m4d" class="n pk"><rect x="159" y="997" width="14" height="5" rx="1"/><text class="t" x="166" y="999.5">Manager</text></g>
<g id="r-m5" class="n pk"><rect x="202" y="943" width="30" height="11" rx="1"/><text class="t" x="217" y="946.2">What would you change about</text><text class="t" x="217" y="948.6">how new medicines reach</text><text class="t" x="217" y="951">patients, and why?</text></g>
<g id="r-m5a" class="n pk"><rect x="198" y="982" width="9" height="11" rx="1"/><text class="t" x="202.5" y="985.6">Faster</text><text class="t" x="202.5" y="988">access</text><text class="t" x="202.5" y="990.4">to trials</text></g>
<g id="r-m5b" class="n pk"><rect x="212" y="989" width="15" height="5" rx="1"/><text class="t" x="219.5" y="991.5">Better data use</text></g>
<g id="r-m5c" class="n pk"><rect x="204" y="1000" width="13" height="5" rx="1"/><text class="t" x="210.5" y="1002.5">Lower cost</text></g>
<g id="r-m5d" class="n pk"><rect x="221" y="972" width="24" height="8" rx="1"/><text class="t" x="233" y="974.8">More patient voice in</text><text class="t" x="233" y="977.2">research decisions</text></g>

<!-- slide titles -->
<rect x="218" y="497" width="112" height="52" fill="#ffffff"/>
<text class="ttl" x="325" y="58" font-size="26">Warm up</text>
<text class="ttl" x="324" y="321" font-size="26.5">Simple</text>
<text class="ttl" x="324" y="348" font-size="26.5">Models</text>
<text class="ttl" x="325" y="519" font-size="24">Dept</text>
<text class="ttl" x="325" y="546" font-size="24">Interview</text>
<text class="ttl" x="326" y="858" font-size="26">Round up</text>
</svg>
